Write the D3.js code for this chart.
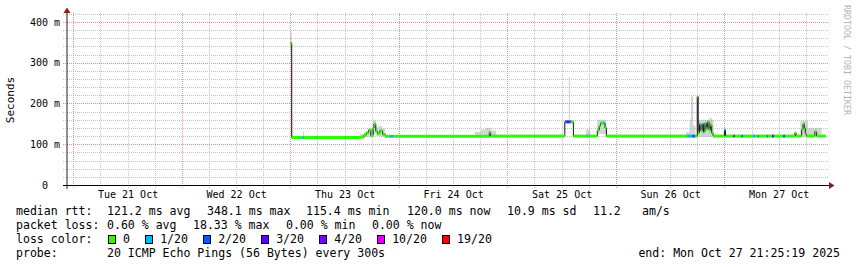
<!DOCTYPE html>
<meta charset="utf-8">
<style>
body { margin: 0; background: #fff; }
svg text { font-family: "DejaVu Sans Mono", monospace; white-space: pre; }
.grid-minor { stroke: #c4c4c4; stroke-dasharray: 1,1; }
.grid-major { stroke: #e89494; stroke-dasharray: 1,1; }
</style>
<svg width="857" height="267"></svg>
<script src="https://d3js.org/d3.v7.min.js"></script>
<script>

// hours are counted from Thu 23 Oct 00:00
var medianHours = [0.0, 0.3, 15.2, 16.3, 16.8, 17.3, 17.8, 18.3, 18.5, 18.9, 19.3, 19.8, 20.4, 21.0,
  44.0, 44.3, 60.7, 62.6, 67.9, 68.3, 68.6, 69.6, 69.9,
  90.0, 90.2, 90.5, 90.8, 91.1, 91.4, 91.7, 92.0, 92.3, 92.6, 92.9, 93.2, 93.5,
  96.0, 96.25, 111.6, 111.85, 113.1, 113.4, 113.7, 113.9, 114.2, 116.0, 116.4];
var medianMs = [348, 116.5, 117.5, 123, 128, 135, 121, 140, 150, 132, 126, 133, 124, 119.5,
  129, 120, 155, 120, 134, 145, 152, 140, 120,
  217, 128, 150, 133, 148, 130, 152, 138, 155, 135, 147, 128, 120,
  135, 120, 128, 120, 136, 150, 140, 125, 120, 131, 120];
var dataEnd = 118.4;

// loss level index into lossColors
var lossHours = [0, 2.7, 3.0, 22.0, 22.7, 60.8, 61.2, 61.7, 62.1, 65.6, 65.8, 69.3, 69.6,
  87.8, 88.9, 89.5, 91.1, 91.5, 96.0, 96.3, 98.0, 98.3, 99.8, 100.1, 102.3, 102.8,
  103.4, 103.6, 105.4, 105.6, 106.5, 106.8, 107.0, 109.0, 109.4];
var lossLevel = [0, 1, 0, 1, 0, 2, 3, 2, 0, 1, 0, 1, 0,
  1, 2, 0, 2, 0, 1, 0, 3, 0, 2, 0, 1, 0,
  2, 0, 2, 0, 3, 2, 0, 2, 0];

// smoke: start hour, end hour, low ms, high ms
var smokeStart = [0.0, 2.8, 15.5, 16.5, 17.5, 18.3, 18.9, 19.5, 20.3, 40.8, 42.2, 43.2, 44.4,
  61.6, 65.4, 67.9, 87.5, 88.3, 88.6, 89.1, 90.2, 92.7, 111.5, 112.8, 114.5];
var smokeEnd = [0.3, 3.0, 16.5, 17.5, 18.3, 18.9, 19.5, 20.3, 21.0, 42.2, 43.2, 44.4, 45.5,
  61.85, 66.4, 69.9, 88.3, 88.6, 89.1, 89.6, 93.6, 93.2, 112.0, 114.5, 117.5];
var smokeLo = [330, 116, 117, 118, 118, 125, 120, 120, 118, 118, 118, 118, 118,
  150, 118, 125, 118, 118, 120, 118, 118, 125, 118, 118, 118];
var smokeHi = [375, 132, 125, 132, 138, 158, 142, 145, 138, 130, 136, 140, 134,
  265, 136, 160, 130, 160, 217, 145, 160, 165, 128, 158, 140];

var lossLabels = ["0", "1/20", "2/20", "3/20", "4/20", "10/20", "19/20"];
var lossColors = ["#26ff00", "#00b8ff", "#0059ff", "#5e00ff", "#7e00ff", "#dd00ff", "#ff0000"];

var yTicks = [0, 100, 200, 300, 400];
var dayLabelsAt = ["2025-10-21T12:00Z", "2025-10-22T12:00Z", "2025-10-23T12:00Z", "2025-10-24T12:00Z",
  "2025-10-25T12:00Z", "2025-10-26T12:00Z", "2025-10-27T12:00Z"];

var medianStats = ["121.2 ms avg", "348.1 ms max", "115.4 ms min", "120.0 ms now", "10.9 ms sd", "11.2", "am/s"];
var lossStats = ["0.60 % avg", "18.33 % max", "0.00 % min", "0.00 % now"];
var probeText = "20 ICMP Echo Pings (56 Bytes) every 300s";
var endText = "end: Mon Oct 27 21:25:19 2025";

var svg = d3.select("svg");
var t0 = Date.UTC(2025, 9, 23);
function at(h) { return new Date(t0 + h * 3600e3); }

var x = d3.scaleUtc()
    .domain([new Date("2025-10-20T22:36Z"), new Date("2025-10-27T22:55Z")])
    .range([67, 828]);
var y = d3.scaleLinear().domain([0, 422]).range([185, 13]);

function crisp(v) { return Math.round(v) + 0.5; }

//grid
var grid = svg.append("g");
d3.range(20, 421, 20).forEach(function(v) {
  grid.append("line")
    .attr("class", v % 100 == 0 ? "grid-major" : "grid-minor")
    .attr("x1", 63).attr("x2", 828)
    .attr("y1", crisp(y(v))).attr("y2", crisp(y(v)));
});
x.ticks(d3.utcHour.every(6)).forEach(function(t) {
  grid.append("line")
    .attr("class", t.getUTCHours() == 0 ? "grid-major" : "grid-minor")
    .attr("x1", crisp(x(t))).attr("x2", crisp(x(t)))
    .attr("y1", 13).attr("y2", 189);
});

//smoke
svg.append("g").selectAll("rect")
  .data(smokeStart)
  .enter().append("rect")
    .attr("x", function(d) { return x(at(d)); })
    .attr("width", function(d, i) { return Math.max(1, x(at(smokeEnd[i])) - x(at(d))); })
    .attr("y", function(d, i) { return y(smokeHi[i]); })
    .attr("height", function(d, i) { return y(smokeLo[i]) - y(smokeHi[i]); })
    .attr("fill", "#b0b0b0")
    .attr("fill-opacity", 0.55);

//median line (black steps)
var pts = medianHours.map(function(h, i) { return [h, medianMs[i]]; });
pts.push([dataEnd, medianMs[medianMs.length - 1]]);
var line = d3.line()
    .curve(d3.curveStepAfter)
    .x(function(d) { return x(at(d[0])); })
    .y(function(d) { return y(d[1]); });
svg.append("path")
    .datum(pts)
    .attr("d", line)
    .attr("fill", "none")
    .attr("stroke", "#111")
    .attr("stroke-width", 1);

//loss coloured band on top of the median
function stepValue(hours, vals, h) {
  return vals[Math.max(0, d3.bisectRight(hours, h) - 1)];
}
var breaks = Array.from(new Set(medianHours.concat(lossHours).concat([dataEnd])))
  .filter(function(h) { return h <= dataEnd; })
  .sort(function(a, b) { return a - b; });
var segs = [];
for (var i = 0; i < breaks.length - 1; i++) {
  segs.push({a: breaks[i], b: breaks[i + 1],
    v: stepValue(medianHours, medianMs, breaks[i]),
    l: stepValue(lossHours, lossLevel, breaks[i])});
}
svg.append("g").selectAll("rect")
  .data(segs)
  .enter().append("rect")
    .attr("x", function(d) { return x(at(d.a)); })
    .attr("width", function(d) { return x(at(d.b)) - x(at(d.a)); })
    .attr("y", function(d) { return y(d.v) - 1.5; })
    .attr("height", 3)
    .attr("fill", function(d) { return lossColors[d.l]; });

//axes
svg.append("line")
    .attr("x1", 67).attr("x2", 67).attr("y1", 189).attr("y2", 12)
    .attr("stroke", "#222");
svg.append("line")
    .attr("x1", 63).attr("x2", 829).attr("y1", 185.5).attr("y2", 185.5)
    .attr("stroke", "#000");
svg.append("path").attr("d", "M67,7.5L63.5,13L70.5,13Z").attr("fill", "#8b1c1c");
svg.append("path").attr("d", "M834.5,185.5L829,182L829,189Z").attr("fill", "#8b1c1c");

var yAxis = svg.append("g")
    .attr("transform", "translate(60,0)")
    .call(d3.axisLeft(y).tickValues(yTicks).tickSize(0).tickPadding(0)
      .tickFormat(function(v) { return v ? v + " m" : "0  "; }));
yAxis.select(".domain").remove();
yAxis.selectAll("text").attr("font-size", 10).attr("font-family", "DejaVu Sans Mono").attr("fill", "#000");

var xAxis = svg.append("g")
    .attr("transform", "translate(0,185)")
    .call(d3.axisBottom(x).tickValues(dayLabelsAt.map(function(s) { return new Date(s); }))
      .tickSize(0).tickPadding(6).tickFormat(d3.utcFormat("%a %d %b")));
xAxis.select(".domain").remove();
xAxis.selectAll("text").attr("font-size", 10).attr("font-family", "DejaVu Sans Mono").attr("fill", "#000");

svg.append("text")
    .attr("transform", "translate(14,100) rotate(-90)")
    .attr("text-anchor", "middle")
    .attr("font-size", 11)
    .text("Seconds");

svg.append("text")
    .attr("transform", "translate(844,5) rotate(90)")
    .attr("font-size", 8.5)
    .attr("fill", "#b4b4b4")
    .attr("textLength", 110)
    .attr("lengthAdjust", "spacingAndGlyphs")
    .text("RRDTOOL / TOBI OETIKER");

//legend
var charW = 6.95, gap = 16.5;
var leg = svg.append("g").attr("font-size", 11.55).attr("fill", "#000");
leg.append("text").attr("x", 16).attr("y", 215).text("median rtt:");
[107, 207, 306, 407, 507, 593, 642].forEach(function(px, i) {
  leg.append("text").attr("x", px).attr("y", 215).text(medianStats[i]);
});
leg.append("text").attr("x", 16).attr("y", 229).text("packet loss:");
var lx = 107;
lossStats.forEach(function(s) {
  leg.append("text").attr("x", lx).attr("y", 229).text(s);
  lx += s.length * charW + gap;
});
leg.append("text").attr("x", 16).attr("y", 243).text("loss color:");
var sx = 108.3;
lossLabels.forEach(function(s, i) {
  leg.append("rect")
    .attr("x", Math.round(sx) + 0.5).attr("y", 235.5).attr("width", 7).attr("height", 8)
    .attr("fill", lossColors[i])
    .attr("stroke", "#000");
  leg.append("text").attr("x", sx + 14.7).attr("y", 243).text(s);
  sx += 14.7 + s.length * charW + 15.5;
});
leg.append("text").attr("x", 16).attr("y", 257).text("probe:");
leg.append("text").attr("x", 107).attr("y", 257).text(probeText);
leg.append("text").attr("x", 840).attr("y", 257).attr("text-anchor", "end").text(endText);

</script>
